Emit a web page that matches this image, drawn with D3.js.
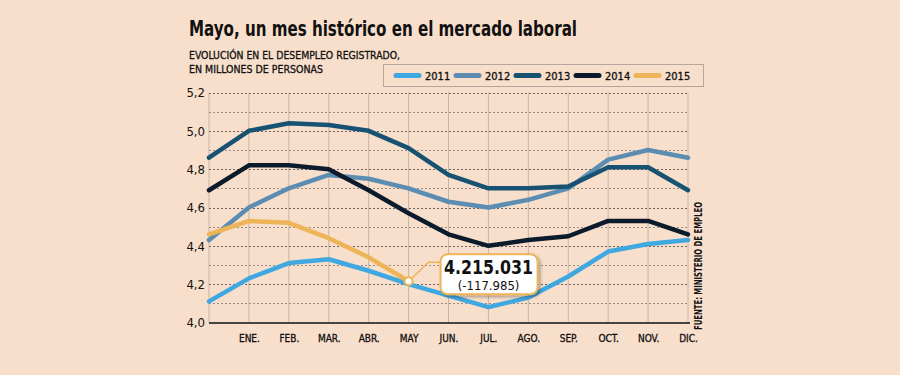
<!DOCTYPE html>
<html>
<head>
<meta charset="utf-8">
<script src="https://cdn.jsdelivr.net/npm/d3@7"></script>
<style>
  body { margin: 0; background: #f8dfcb; }
  svg { display: block; }
  text { font-family: 'DejaVu Sans Condensed', 'DejaVu Sans', sans-serif; font-stretch: condensed; }
</style>
</head>
<body>
<svg id="chart"></svg>
<script>
// data
const months = ['', 'ENE.', 'FEB.', 'MAR.', 'ABR.', 'MAY', 'JUN.', 'JUL.', 'AGO.', 'SEP.', 'OCT.', 'NOV.', 'DIC.'];
const years = ['2011', '2012', '2013', '2014', '2015'];
const v2011 = [4.11, 4.23, 4.31, 4.33, 4.27, 4.20, 4.14, 4.08, 4.13, 4.24, 4.37, 4.41, 4.43];
const v2012 = [4.43, 4.60, 4.70, 4.77, 4.75, 4.70, 4.63, 4.60, 4.64, 4.70, 4.85, 4.90, 4.86];
const v2013 = [4.86, 5.00, 5.04, 5.03, 5.00, 4.91, 4.77, 4.70, 4.70, 4.71, 4.81, 4.81, 4.69];
const v2014 = [4.69, 4.82, 4.82, 4.80, 4.69, 4.57, 4.46, 4.40, 4.43, 4.45, 4.53, 4.53, 4.46];
const v2015 = [4.46, 4.53, 4.52, 4.44, 4.34, 4.215];
const yTicks = [4.0, 4.2, 4.4, 4.6, 4.8, 5.0, 5.2];
const highlight = { month: 'MAY', value: 4.215, label: '4.215.031', change: '(-117.985)' };

const colors = ['#3fa8e1', '#5b8cb2', '#185273', '#0b1b2b', '#edb458'];
const seriesValues = [v2011, v2012, v2013, v2014, v2015];

const width = 900;
const height = 375;
const fontStack = "'DejaVu Sans Condensed', 'DejaVu Sans', sans-serif";

const svg = d3.select('#chart')
  .attr('width', width)
  .attr('height', height);

svg.append('rect')
  .attr('width', width)
  .attr('height', height)
  .attr('fill', '#f8dfcb');

// scales
const x = d3.scalePoint()
  .domain(months)
  .range([209, 688]);

const y = d3.scaleLinear()
  .domain([4.0, 5.2])
  .range([322.5, 92.5]);

// title
svg.append('text')
  .attr('x', 189)
  .attr('y', 36)
  .attr('font-size', 21)
  .attr('font-weight', 'bold')
  .attr('fill', '#111')
  .attr('textLength', 388)
  .attr('lengthAdjust', 'spacingAndGlyphs')
  .text('Mayo, un mes histórico en el mercado laboral');

svg.append('text')
  .attr('x', 189)
  .attr('y', 58.5)
  .attr('font-size', 11)
  .attr('fill', '#111')
  .attr('stroke', '#111')
  .attr('stroke-width', 0.3)
  .attr('textLength', 211)
  .attr('lengthAdjust', 'spacingAndGlyphs')
  .text('EVOLUCIÓN EN EL DESEMPLEO REGISTRADO,');

svg.append('text')
  .attr('x', 189)
  .attr('y', 73)
  .attr('font-size', 11)
  .attr('fill', '#111')
  .attr('stroke', '#111')
  .attr('stroke-width', 0.3)
  .attr('textLength', 134)
  .attr('lengthAdjust', 'spacingAndGlyphs')
  .text('EN MILLONES DE PERSONAS');

// legend
const legend = svg.append('g');
legend.append('rect')
  .attr('x', 383.5)
  .attr('y', 64.5)
  .attr('width', 320)
  .attr('height', 22)
  .attr('fill', 'none')
  .attr('stroke', '#b5a79d')
  .attr('stroke-width', 1);

const legendItems = legend.selectAll('g.item')
  .data(years)
  .enter()
  .append('g')
  .attr('class', 'item')
  .attr('transform', (d, i) => `translate(${396 + i * 60}, 75.5)`);

legendItems.append('line')
  .attr('x1', 0)
  .attr('x2', 23)
  .attr('stroke', (d, i) => colors[i])
  .attr('stroke-width', 5)
  .attr('stroke-linecap', 'round');

legendItems.append('text')
  .attr('x', 29)
  .attr('y', 4)
  .attr('font-size', 11)
  .attr('fill', '#111')
  .attr('stroke', '#111')
  .attr('stroke-width', 0.3)
  .text(d => d);

// gridlines
const grid = svg.append('g');
grid.selectAll('line.v')
  .data(months)
  .enter()
  .append('line')
  .attr('x1', d => x(d))
  .attr('x2', d => x(d))
  .attr('y1', y(5.2))
  .attr('y2', y(4.0))
  .attr('stroke', '#c6b6aa')
  .attr('stroke-width', 1);

const hTicks = d3.range(41, 53).map(d => d / 10);
grid.selectAll('line.h')
  .data(hTicks)
  .enter()
  .append('line')
  .attr('x1', x(''))
  .attr('x2', x('DIC.'))
  .attr('y1', d => Math.round(y(d)) + 0.5)
  .attr('y2', d => Math.round(y(d)) + 0.5)
  .attr('stroke', (d, i) => i % 2 === 1 ? '#6e6660' : '#9a8f87')
  .attr('stroke-width', 1)
  .attr('stroke-dasharray', '2,2');

// axes
const yAxis = d3.axisLeft(y)
  .tickValues(yTicks)
  .tickSize(0)
  .tickPadding(4)
  .tickFormat(d => d3.format('.1f')(d).replace('.', ','));

svg.append('g')
  .attr('transform', `translate(${x('')}, 0)`)
  .call(yAxis)
  .call(g => g.select('.domain').remove())
  .call(g => g.selectAll('text')
    .attr('font-size', 13)
    .attr('fill', '#111')
    .style('font-family', fontStack));

const xAxis = d3.axisBottom(x)
  .tickSize(0)
  .tickPadding(12);

svg.append('g')
  .attr('transform', `translate(0, ${y(4.0)})`)
  .call(xAxis)
  .call(g => g.select('.domain')
    .attr('d', `M${x('')},0.5H${x('DIC.') + 2}`)
    .attr('stroke', '#111')
    .attr('stroke-width', 1.5))
  .call(g => g.selectAll('text')
    .attr('font-size', 10)
    .attr('fill', '#111')
    .attr('stroke', '#111')
    .attr('stroke-width', 0.3)
    .style('font-family', fontStack));

// lines
const line = d3.line()
  .x((d, i) => x(months[i]))
  .y(d => y(d));

svg.append('g')
  .selectAll('path')
  .data(seriesValues)
  .enter()
  .append('path')
  .attr('d', d => line(d))
  .attr('fill', 'none')
  .attr('stroke', (d, i) => colors[i])
  .attr('stroke-width', 4.5)
  .attr('stroke-linejoin', 'round')
  .attr('stroke-linecap', 'round');

// callout
const defs = svg.append('defs');
const filter = defs.append('filter')
  .attr('id', 'shadow')
  .attr('x', '-20%').attr('y', '-20%')
  .attr('width', '140%').attr('height', '160%');
filter.append('feDropShadow')
  .attr('dx', 2)
  .attr('dy', 2)
  .attr('stdDeviation', 1.5)
  .attr('flood-color', '#000')
  .attr('flood-opacity', 0.3);

const px = x(highlight.month);
const py = y(highlight.value);
const orange = colors[4];

svg.append('polyline')
  .attr('points', `${px},${py} ${px + 20},${py - 19} ${px + 34},${py - 19}`)
  .attr('fill', 'none')
  .attr('stroke', orange)
  .attr('stroke-width', 1.5);

svg.append('rect')
  .attr('x', px + 32)
  .attr('y', py - 27)
  .attr('width', 97)
  .attr('height', 40)
  .attr('rx', 7)
  .attr('fill', '#fff')
  .attr('stroke', orange)
  .attr('stroke-width', 2)
  .attr('filter', 'url(#shadow)');

svg.append('circle')
  .attr('cx', px)
  .attr('cy', py)
  .attr('r', 4)
  .attr('fill', '#fff')
  .attr('stroke', orange)
  .attr('stroke-width', 2);

svg.append('text')
  .attr('x', px + 80)
  .attr('y', py - 7)
  .attr('text-anchor', 'middle')
  .attr('font-size', 19)
  .attr('font-weight', 'bold')
  .attr('fill', '#111')
  .attr('textLength', 89)
  .attr('lengthAdjust', 'spacingAndGlyphs')
  .text(highlight.label);

svg.append('text')
  .attr('x', px + 80)
  .attr('y', py + 9)
  .attr('text-anchor', 'middle')
  .attr('font-size', 13)
  .attr('fill', '#111')
  .text(highlight.change);

// source
svg.append('text')
  .attr('transform', 'translate(702, 330) rotate(-90)')
  .attr('font-size', 10)
  .attr('font-weight', 'bold')
  .attr('fill', '#111')
  .attr('textLength', 128)
  .attr('lengthAdjust', 'spacingAndGlyphs')
  .text('FUENTE: MINISTERIO DE EMPLEO');
</script>
</body>
</html>
